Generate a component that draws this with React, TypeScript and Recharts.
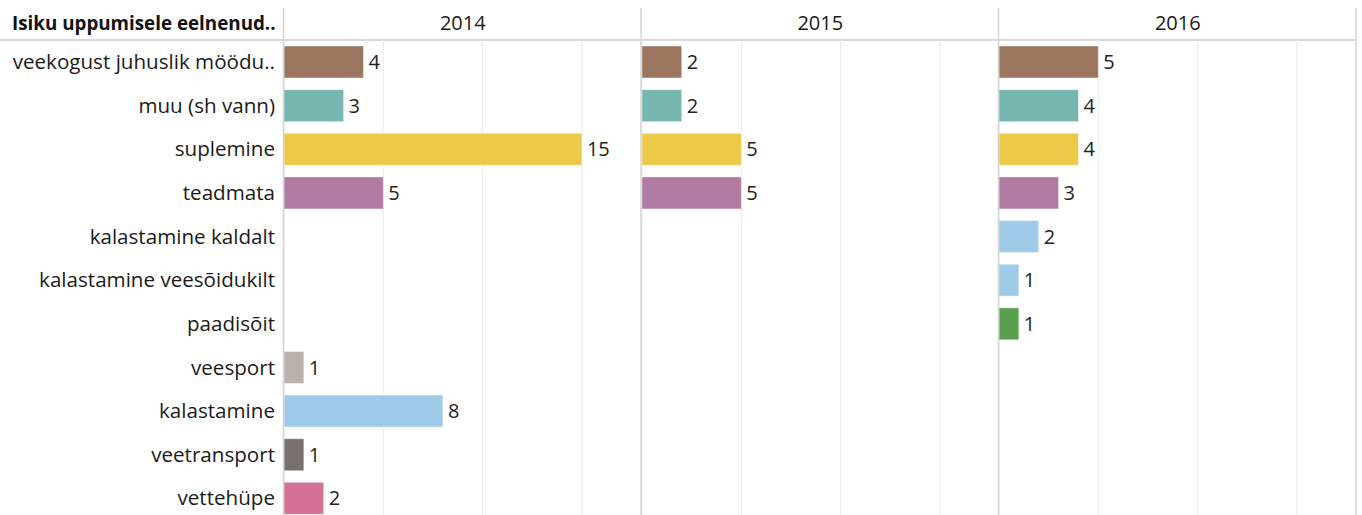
import React from "react";
import { BarChart, Bar, XAxis, YAxis, Cell, LabelList, CartesianGrid } from "recharts";

const categories = [
  "veekogust juhuslik möödu..",
  "muu (sh vann)",
  "suplemine",
  "teadmata",
  "kalastamine kaldalt",
  "kalastamine veesõidukilt",
  "paadisõit",
  "veesport",
  "kalastamine",
  "veetransport",
  "vettehüpe",
];
const colors = [
  "#9c755f",
  "#76b7b2",
  "#edc948",
  "#b07aa1",
  "#a0cbe8",
  "#a0cbe8",
  "#59a14f",
  "#bab0ac",
  "#a0cbe8",
  "#79706e",
  "#d37295",
];
const years = ["2014", "2015", "2016"];
const values2014 = [4, 3, 15, 5, null, null, null, 1, 8, 1, 2];
const values2015 = [2, 2, 5, 5, null, null, null, null, null, null, null];
const values2016 = [5, 4, 4, 3, 2, 1, 1, null, null, null, null];
const headerTitle = "Isiku uppumisele eelnenud..";
const gridTicks = [0, 5, 10, 15];

const FONT = "'Open Sans', sans-serif";
const TOP = 40;
const H = 480;
const PANEL_W = 357.5;
const LABEL_W = 284;

function Panel({ values, withAxis }: { values: (number | null)[]; withAxis: boolean }) {
  const data = categories.map((c, i) => ({ cat: c, v: values[i] }));
  return (
    <BarChart
      width={withAxis ? LABEL_W + PANEL_W : PANEL_W}
      height={H}
      data={data}
      layout="vertical"
      margin={{ top: 0, right: 0, bottom: 0, left: 0 }}
    >
      <CartesianGrid horizontal={false} vertical={true} stroke="#ebebeb" strokeWidth={1} />
      <XAxis type="number" domain={[0, 18]} ticks={gridTicks} hide />
      <YAxis
        type="category"
        dataKey="cat"
        hide={!withAxis}
        width={LABEL_W}
        tickLine={false}
        axisLine={false}
        tickSize={0}
        tickMargin={9}
        interval={0}
        tick={{ fill: "#1a1a1a", fontSize: 20.6, fontFamily: FONT }}
      />
      <Bar dataKey="v" barSize={32} isAnimationActive={false} stroke="rgba(255,255,255,0.45)" strokeWidth={1}>
        {data.map((d, i) => (
          <Cell key={i} fill={colors[i]} />
        ))}
        <LabelList dataKey="v" position="right" offset={5} fill="#222" fontSize={20} fontFamily={FONT} />
      </Bar>
    </BarChart>
  );
}

export default function App() {
  const panelLefts = [LABEL_W, LABEL_W + PANEL_W, LABEL_W + 2 * PANEL_W];
  const right = LABEL_W + 3 * PANEL_W;
  return (
    <div style={{ position: "absolute", left: 0, top: 0, width: 1362, height: 520, background: "#fff", fontFamily: FONT }}>
      <svg width={1362} height={520} style={{ position: "absolute", left: 0, top: 0 }}>
        <line x1={0} x2={right} y1={40} y2={40} stroke="#d9d9d9" strokeWidth={2} />
      </svg>
      <div
        style={{
          position: "absolute",
          left: 12,
          top: 9,
          fontSize: 18.8,
          fontWeight: 700,
          color: "#111",
          lineHeight: "28px",
          whiteSpace: "nowrap",
        }}
      >
        {headerTitle}
      </div>
      {years.map((y, i) => (
        <div
          key={y}
          style={{
            position: "absolute",
            left: panelLefts[i],
            width: PANEL_W,
            top: 9,
            textAlign: "center",
            fontSize: 20,
            color: "#1a1a1a",
            lineHeight: "28px",
          }}
        >
          {y}
        </div>
      ))}
      <div style={{ position: "absolute", left: 0, top: TOP }}>
        <Panel values={values2014} withAxis={true} />
      </div>
      <div style={{ position: "absolute", left: panelLefts[1], top: TOP }}>
        <Panel values={values2015} withAxis={false} />
      </div>
      <div style={{ position: "absolute", left: panelLefts[2], top: TOP }}>
        <Panel values={values2016} withAxis={false} />
      </div>
      <svg width={1362} height={520} style={{ position: "absolute", left: 0, top: 0, pointerEvents: "none" }}>
        {[...panelLefts, right].map((x, i) => (
          <line key={i} x1={x - 0.5} x2={x - 0.5} y1={8} y2={520} stroke="#d4d4d4" strokeWidth={1.5} />
        ))}
      </svg>
    </div>
  );
}
